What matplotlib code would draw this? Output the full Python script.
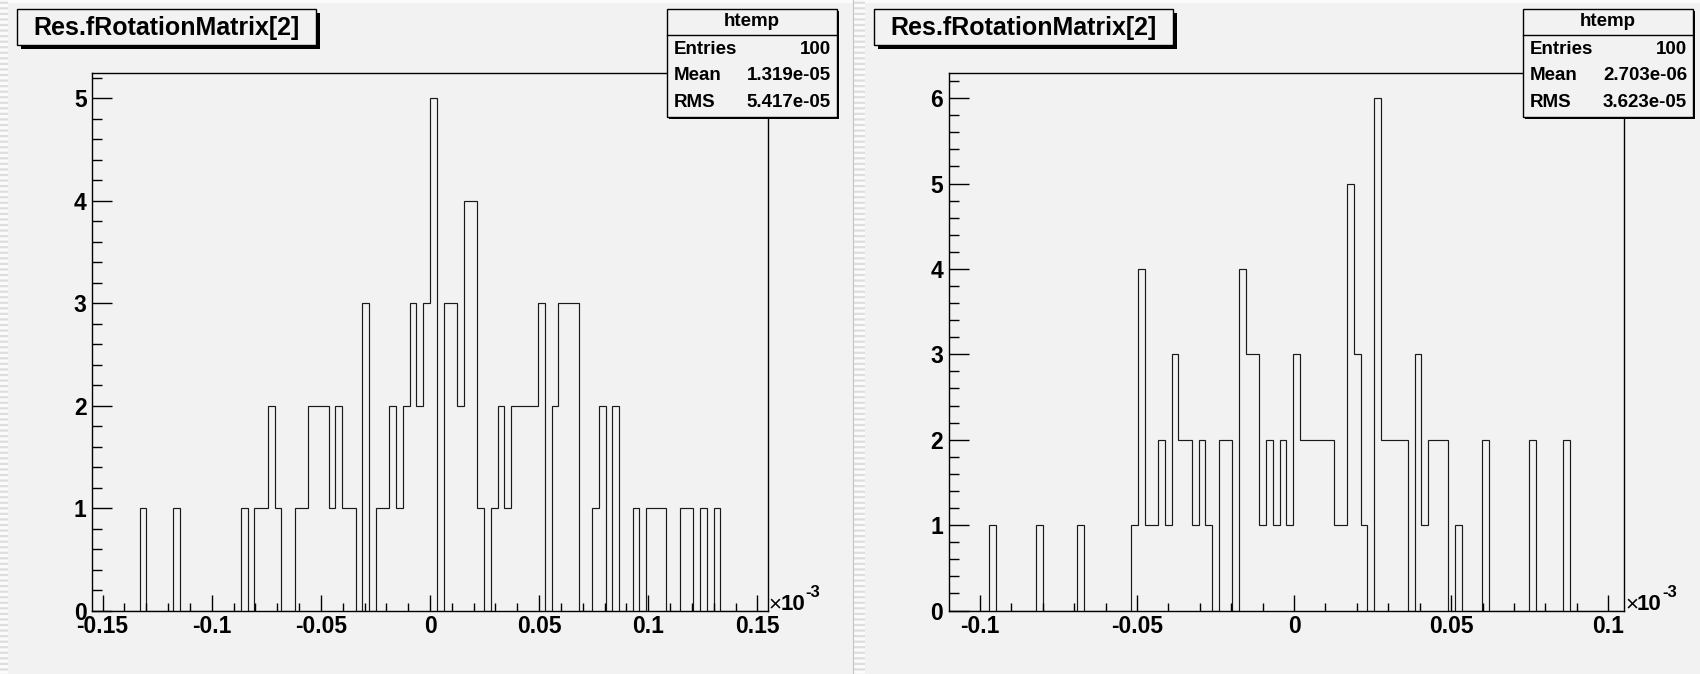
import numpy as np
import matplotlib
matplotlib.use('Agg')
import matplotlib.pyplot as plt
from matplotlib.patches import Rectangle
from matplotlib.ticker import MultipleLocator, FuncFormatter

# canvas size in pixels (dpi 100)
W, H = 1700, 674
PAD_COLOR = '#f2f2f2'
FONT = ['Liberation Sans', 'DejaVu Sans']

# -------------------------------------------------
# Data: bin contents, x in units of 1e-3
# -------------------------------------------------
title = 'Res.fRotationMatrix[2]'
hist_name = 'htemp'

left_range = (-0.1547, 0.1547)
left_counts = [0, 0, 0, 0, 0, 0, 0, 1, 0, 0,
               0, 0, 1, 0, 0, 0, 0, 0, 0, 0,
               0, 0, 1, 0, 1, 1, 2, 1, 0, 0,
               1, 1, 2, 2, 2, 1, 2, 1, 1, 0,
               3, 0, 1, 1, 2, 1, 2, 3, 2, 3,
               5, 0, 3, 3, 2, 4, 4, 1, 0, 1,
               2, 1, 2, 2, 2, 2, 3, 0, 2, 3,
               3, 3, 0, 0, 1, 2, 0, 2, 0, 0,
               1, 0, 1, 1, 1, 0, 0, 1, 1, 0,
               1, 0, 1, 0, 0, 0, 0, 0, 0, 0]
left_stats = [('Entries', '100'), ('Mean', '1.319e-05'), ('RMS', '5.417e-05')]

right_range = (-0.1099, 0.1050)
right_counts = [0, 0, 0, 0, 0, 0, 1, 0, 0, 0,
                0, 0, 0, 1, 0, 0, 0, 0, 0, 1,
                0, 0, 0, 0, 0, 0, 0, 1, 4, 1,
                1, 2, 1, 3, 2, 2, 1, 2, 1, 0,
                2, 2, 0, 4, 3, 3, 1, 2, 1, 2,
                1, 3, 2, 2, 2, 2, 2, 1, 1, 5,
                3, 1, 0, 6, 2, 2, 2, 2, 0, 3,
                1, 2, 2, 2, 0, 1, 0, 0, 0, 2,
                0, 0, 0, 0, 0, 0, 2, 0, 0, 0,
                0, 2, 0, 0, 0, 0, 0, 0, 0, 0]
right_stats = [('Entries', '100'), ('Mean', '2.703e-06'), ('RMS', '3.623e-05')]

x_scale_label = '-3'


def fx(x):
    return x / W


def fy(y):
    return 1 - y / H


def rect(x0, y0, x1, y1, **kw):
    r = Rectangle((fx(x0), fy(y1)), (x1 - x0) / W, (y1 - y0) / H,
                  transform=fig.transFigure, **kw)
    fig.add_artist(r)
    return r


fig = plt.figure(figsize=(W / 100, H / 100), dpi=100, facecolor=PAD_COLOR)
plt.rcParams['hatch.linewidth'] = 1.6

# pad borders (striped bevel look)
rect(0, 0, W, 3, facecolor='#fbfbfb', edgecolor='none')
rect(0, 0, 8, H, facecolor='#fbfbfb', edgecolor='#dedede', hatch='---', lw=0)
rect(853, 0, 865, H, facecolor='#fbfbfb', edgecolor='#dedede', hatch='---', lw=0)
fig.add_artist(plt.Line2D([fx(852.5), fx(852.5)], [0, 1], color='#c4c4c4', lw=0.8,
                          transform=fig.transFigure))


def draw_pad(x_left, x_right, counts, xrange_, stats, title_x0, stats_x0):
    ax = fig.add_axes([fx(x_left), fy(610.5), (x_right - x_left) / W, (610.5 - 72.5) / H])
    ax.set_facecolor(PAD_COLOR)
    edges = np.linspace(xrange_[0], xrange_[1], len(counts) + 1)
    ax.stairs(counts, edges, color='#1a1a1a', lw=0.85, baseline=0)
    ax.set_xlim(xrange_)
    ax.set_ylim(0, max(counts) * 1.05)

    for s in ax.spines.values():
        s.set_linewidth(1.0)
        s.set_color('black')
    ax.xaxis.set_major_locator(MultipleLocator(0.05))
    ax.xaxis.set_minor_locator(MultipleLocator(0.01))
    ax.yaxis.set_major_locator(MultipleLocator(1))
    ax.yaxis.set_minor_locator(MultipleLocator(0.2))
    ax.xaxis.set_major_formatter(FuncFormatter(lambda v, p: f'{round(v, 3) + 0.0:g}'))
    ax.yaxis.set_major_formatter(FuncFormatter(lambda v, p: f'{v:g}'))
    ax.tick_params(axis='x', which='major', direction='in', length=11.5, width=1.0,
                   pad=3.5, labelsize=16.5, top=False)
    ax.tick_params(axis='x', which='minor', direction='in', length=5.5, width=1.0, top=False)
    ax.tick_params(axis='y', which='major', direction='in', length=14.4, width=1.0,
                   pad=4, labelsize=16.5, right=False)
    ax.tick_params(axis='y', which='minor', direction='in', length=7.2, width=1.0, right=False)
    for lab in ax.get_xticklabels() + ax.get_yticklabels():
        lab.set_fontfamily(FONT)
        lab.set_fontweight('bold')

    # x10^-3 multiplier
    fig.text(fx(x_right + 1), fy(610.5), '\u00d7', ha='left', va='baseline',
             fontsize=16, family=FONT)
    fig.text(fx(x_right + 13), fy(610.5), '10', ha='left', va='baseline',
             fontsize=16, family=FONT, fontweight='bold')
    fig.text(fx(x_right + 38), fy(597), x_scale_label, ha='left', va='baseline',
             fontsize=12, family=FONT, fontweight='bold')

    # title box
    tx1 = title_x0 + 299
    rect(title_x0 + 4, 13, tx1 + 4, 49, facecolor='black', edgecolor='none', zorder=5)
    rect(title_x0, 9, tx1, 45, facecolor=PAD_COLOR, edgecolor='black', lw=1.0, zorder=6)
    fig.text(fx((title_x0 + tx1) / 2), fy(28), title, ha='center', va='center',
             fontsize=18, family=FONT, fontweight='bold', zorder=7)

    # stats box
    sx1 = stats_x0 + 170
    rect(stats_x0 + 2, 11, sx1 + 2, 119, facecolor='black', edgecolor='none', zorder=5)
    rect(stats_x0, 9, sx1, 117, facecolor=PAD_COLOR, edgecolor='black', lw=1.0, zorder=6)
    fig.add_artist(plt.Line2D([fx(stats_x0), fx(sx1)], [fy(35), fy(35)], color='black',
                              lw=1.0, transform=fig.transFigure, zorder=7))
    fig.text(fx((stats_x0 + sx1) / 2), fy(22), hist_name, ha='center', va='center',
             fontsize=13.5, family=FONT, fontweight='bold', zorder=7)
    for i, (name, val) in enumerate(stats):
        yy = 49.5 + i * 26.5
        fig.text(fx(stats_x0 + 7), fy(yy), name, ha='left', va='center',
                 fontsize=13.5, family=FONT, fontweight='bold', zorder=7)
        fig.text(fx(sx1 - 6), fy(yy), val, ha='right', va='center',
                 fontsize=13.5, family=FONT, fontweight='bold', zorder=7)
    return ax


draw_pad(92.3, 767.7, left_counts, left_range, left_stats, 17, 667)
draw_pad(948.7, 1624.0, right_counts, right_range, right_stats, 874, 1523)

fig.savefig('out.png', dpi=100, facecolor=PAD_COLOR)
